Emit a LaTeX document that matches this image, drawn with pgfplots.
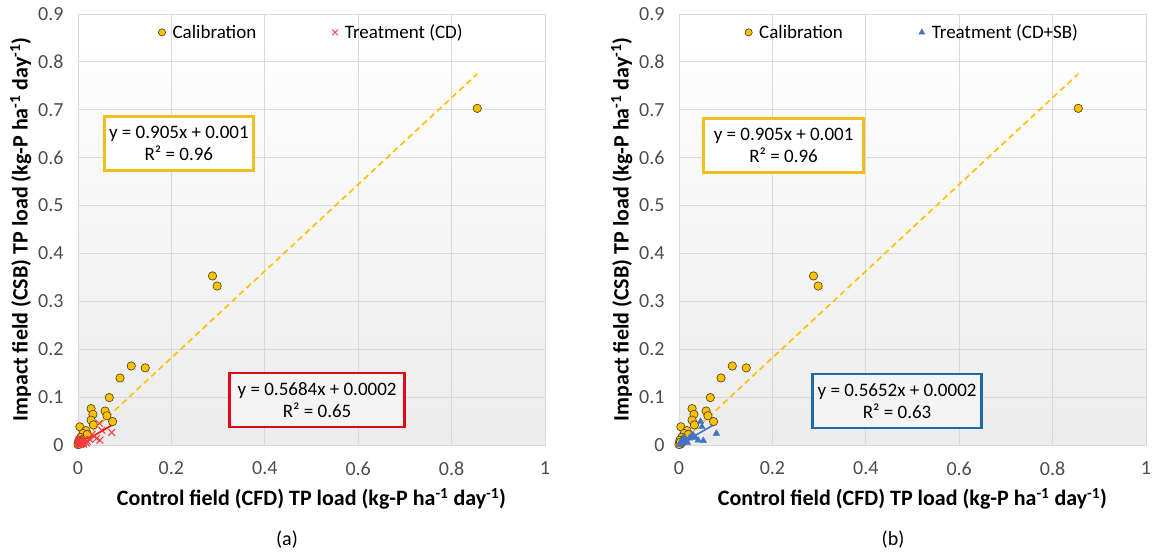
\documentclass[border=0pt]{standalone}
\usepackage{pgfplots}
\pgfplotsset{compat=1.18}
\usepackage{fontspec}
\setmainfont{Carlito}
\definecolor{gridc}{RGB}{217,217,217}
\definecolor{bgc}{RGB}{236,236,236}
\definecolor{calib}{RGB}{255,192,0}
\definecolor{calibdark}{RGB}{70,60,20}
\definecolor{boxyel}{RGB}{242,190,30}
\definecolor{boxred}{RGB}{222,10,25}
\definecolor{boxblue}{RGB}{31,106,166}
\definecolor{crossred}{RGB}{240,60,60}
\definecolor{triblue}{RGB}{68,114,196}
\tikzset{eqbox/.style={align=center, font=\fontsize{19}{22}\selectfont, line width=2.6pt, inner sep=2pt}}
\pgfplotstableread{
x y
0.855 0.703
0.288 0.353
0.298 0.332
0.114 0.165
0.144 0.161
0.090 0.140
0.067 0.099
0.028 0.076
0.032 0.064
0.058 0.071
0.062 0.061
0.074 0.049
0.028 0.052
0.033 0.042
0.004 0.038
0.017 0.030
0.011 0.024
0.006 0.016
0.002 0.010
0.009 0.008
0.001 0.004
0.004 0.002
0.014 0.014
0.020 0.022
0.000 0.001
0.003 0.006
}\calib
\pgfplotstableread{
x y
0.046 0.045
0.051 0.031
0.072 0.026
0.040 0.014
0.035 0.018
0.047 0.010
0.030 0.022
0.025 0.012
0.020 0.008
0.015 0.011
0.010 0.005
0.008 0.003
0.005 0.007
0.003 0.002
0.002 0.004
0.001 0.001
0.006 0.001
0.012 0.002
0.004 0.010
0.018 0.004
0.007 0.012
0.000 0.003
0.002 0.008
0.005 0.003
0.009 0.009
0.001 0.006
0.003 0.012
0.011 0.007
}\treatcd
\pgfplotstableread{
x y
0.046 0.049
0.049 0.038
0.041 0.010
0.052 0.009
0.080 0.024
0.030 0.021
0.022 0.014
0.015 0.010
0.010 0.006
0.006 0.004
0.003 0.002
0.001 0.001
0.012 0.016
0.018 0.005
0.008 0.009
0.004 0.007
0.026 0.018
0.035 0.015
}\treatsb
\pgfplotsset{
  myax/.style={
    scale only axis, width=467pt, height=431pt,
    xmin=0, xmax=1, ymin=0, ymax=0.9,
    xtick={0,0.2,0.4,0.6,0.8,1}, ytick={0,0.1,0.2,0.3,0.4,0.5,0.6,0.7,0.8,0.9},
    grid=major, major grid style={draw=gridc, line width=0.8pt},
    axis line style={draw=gridc, line width=0.8pt},
    major tick length=0pt,
    axis background/.style={top color=white, bottom color=bgc},
    /pgf/number format/assume math mode=true,
    ticklabel style={font=\fontsize{20}{22}\selectfont, text=black!70},
    xticklabel style={yshift=-13pt},
    yticklabel style={xshift=-11pt},
    label style={font=\fontsize{22}{24}\selectfont\bfseries},
    xlabel={Control field (CFD) TP load (kg-P ha\textsuperscript{-1} day\textsuperscript{-1})},
    ylabel={Impact field (CSB) TP load (kg-P ha\textsuperscript{-1} day\textsuperscript{-1})},
    xlabel style={yshift=-6pt},
    ylabel style={yshift=0pt},
    legend style={at={(0.5,0.985)}, anchor=north, draw=none, fill=none,
      font=\fontsize{19}{21}\selectfont, legend columns=2,
      /tikz/every odd column/.append style={column sep=5pt},
      /tikz/every even column/.append style={column sep=74pt}},
    legend cell align=left,
  }
}
\begin{document}
\begin{tikzpicture}
\path[use as bounding box] (0pt,0pt) rectangle (1155pt,552pt);
% ---------- (a)
\begin{axis}[myax, at={(78pt,107pt)}, anchor=south west]
\addplot[only marks, mark=*, mark size=4.2pt, mark options={fill=calib, draw=calibdark, line width=0.6pt},
  legend image post style={mark size=3.6pt}] table {\calib};
\addlegendentry{Calibration}
\addplot[only marks, mark=x, mark size=4.8pt, mark options={draw=crossred, line width=1pt},
  legend image post style={mark size=4pt}] table {\treatcd};
\addlegendentry{Treatment (CD)}
\addplot[forget plot, draw=calib, dashed, dash pattern=on 6pt off 4pt, line width=1.6pt] coordinates {(0,0.001) (0.855,0.775)};
\addplot[forget plot, draw=red, line width=1.6pt] coordinates {(0,0.0002) (0.072,0.0411)};
\node[eqbox, draw=boxyel, fill=white, minimum width=149pt, minimum height=54pt] at (axis cs:0.216,0.630) {y = 0.905x + 0.001\\R² = 0.96};
\node[eqbox, draw=boxred, fill=bgc!60!white, minimum width=175pt, minimum height=54pt] at (axis cs:0.512,0.094) {y = 0.5684x + 0.0002\\R² = 0.65};
\end{axis}
% ---------- (b)
\begin{axis}[myax, at={(679pt,107pt)}, anchor=south west]
\addplot[only marks, mark=*, mark size=4.2pt, mark options={fill=calib, draw=calibdark, line width=0.6pt},
  legend image post style={mark size=3.6pt}] table {\calib};
\addlegendentry{Calibration}
\addplot[only marks, mark=triangle*, mark size=3.8pt, mark options={fill=triblue, draw=triblue},
  legend image post style={mark size=3.4pt}] table {\treatsb};
\addlegendentry{Treatment (CD+SB)}
\addplot[forget plot, draw=calib, dashed, dash pattern=on 6pt off 4pt, line width=1.6pt] coordinates {(0,0.001) (0.855,0.775)};
\addplot[forget plot, draw=triblue, line width=1.6pt] coordinates {(0,0.0002) (0.080,0.0454)};
\node[eqbox, draw=boxyel, fill=white, minimum width=160pt, minimum height=54pt] at (axis cs:0.224,0.626) {y = 0.905x + 0.001\\R² = 0.96};
\node[eqbox, draw=boxblue, fill=bgc!60!white, minimum width=169pt, minimum height=54pt] at (axis cs:0.467,0.092) {y = 0.5652x + 0.0002\\R² = 0.63};
\end{axis}
\node[font=\fontsize{20}{22}\selectfont] at (287pt,12pt) {(a)};
\node[font=\fontsize{20}{22}\selectfont] at (893pt,12pt) {(b)};
\end{tikzpicture}
\end{document}
